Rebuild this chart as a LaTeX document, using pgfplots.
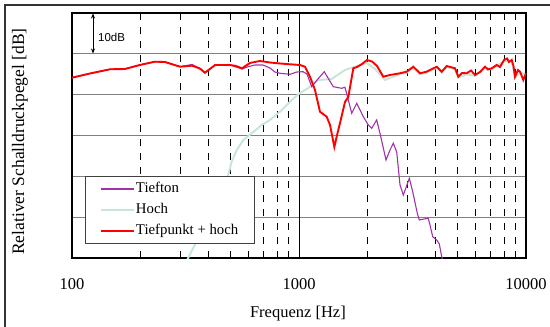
\documentclass[border=0pt]{standalone}
\usepackage{fontspec}
\setmainfont{Liberation Serif}
\newfontfamily\arial{Liberation Sans}
\usepackage{pgfplots}
\pgfplotsset{compat=1.18}
\usetikzlibrary{arrows.meta}
\definecolor{tiefton}{RGB}{160,50,170}
\definecolor{hoch}{RGB}{200,230,215}
\definecolor{gridgray}{RGB}{128,128,128}
\begin{document}
\begin{tikzpicture}
\path[use as bounding box] (0,0) rectangle (550bp,-327bp);
\clip (0,0) rectangle (550bp,-327bp);
\draw[line width=2bp, black!80] (5bp,-340bp) -- (5bp,-5bp) -- (560bp,-5bp);
\begin{axis}[
  at={(72bp,-258bp)}, anchor=south west, scale only axis,
  width=454bp, height=245bp,
  xmode=log, xmin=100, xmax=10000, ymin=0, ymax=60,
  xtick={100,1000,10000}, xticklabels={100,1000,10000},
  minor xtick={200,300,400,500,600,700,800,900,2000,3000,4000,5000,6000,7000,8000,9000},
  ytick={10,20,30,40,50}, yticklabels={},
  ymajorgrids, xminorgrids,
  major tick length=0pt, minor tick length=0pt,
  major grid style={gridgray, line width=1.2bp},
  minor grid style={black, line width=0.7bp, dash pattern=on 7bp off 7bp},
  axis line style={line width=2.2bp},
  /pgf/number format/assume math mode=true,
  tick label style={font=\fontsize{16.5bp}{19bp}\selectfont},
  xticklabel style={yshift=-17bp},
  xlabel={Frequenz [Hz]},
  xlabel style={at={(axis description cs:0.4976,-0.2265)}, anchor=center, font=\fontsize{16.5bp}{19bp}\selectfont},
  ylabel={Relativer Schalldruckpegel [dB]},
  ylabel style={at={(axis description cs:-0.1145,0.4755)}, anchor=center, font=\fontsize{17.5bp}{20bp}\selectfont},
  legend style={at={(0.0286,0.3347)}, anchor=north west, draw=black!75, line width=0.8bp, fill=white,
    font=\fontsize{14.8bp}{17bp}\selectfont, inner xsep=15bp, inner ysep=5bp, row sep=6bp,
    nodes={inner sep=1bp, text height=10bp, text depth=3bp}},
  legend cell align=left,
  legend image code/.code={\draw[#1] (0bp,0bp) -- (33bp,0bp);},
]
\draw[black, line width=0.8bp] (axis cs:1000,0) -- (axis cs:1000,60);
\addplot[hoch, line width=2bp, forget plot] coordinates {
(300,-4) (325,0) (405,10.53) (488,20.33) (505,23.59) (532,26.45) (568,28.90) (629,30.86)
(685,32.57) (745,33.80) (825,35.83) (929,38.70) (1010,40.41) (1099,41.64) (1216,43.60)
(1393,43.84) (1594,46.04) (1765,46.85) (1987,47.76) (2162,46.29) (2393,43.60) (2648,44.58)
(2786,45.0) (2982,45.4) (3188,46.6) (3412,45.0) (3652,45.4) (4043,46.6) (4253,45.4)
(4474,46.8) (4867,46.2) (5033,44.2) (5481,45.0) (5962,44.6) (6598,46.6) (7062,46.2)
(7429,47.0) (8001,48.2) (8650,48.2) (8945,44.2) (9410,45.4) (10000,45.0)
};
\addplot[tiefton, line width=1.1bp, forget plot] coordinates {
(100,44.16) (120,45.19) (147,46.22) (171,46.29) (199,47.27) (232,48.08) (257,48.00)
(299,46.85) (338,47.39) (366,46.41) (385,45.38) (405,46.29) (427,47.27) (497,47.27)
(528,46.78) (561,46.29) (596,46.85) (640,47.27) (694,47.27) (745,46.53) (784,45.55)
(825,45.24) (913,44.99) (977,45.55) (1041,45.63) (1084,45.07) (1138,41.95) (1201,43.60)
(1292,45.63) (1342,44.09) (1416,41.95) (1542,41.56) (1594,41.81) (1649,38.70) (1707,35.44)
(1796,37.89) (1920,34.61) (2020,32.57) (2091,31.77) (2199,33.80) (2274,30.54) (2417,24.00)
(2517,26.45) (2603,28.09) (2694,25.96) (2786,17.88) (2881,15.43) (3062,19.52) (3169,16.24)
(3320,10.95) (3388,9.31) (3553,9.55) (3712,9.72) (3777,8.08) (3882,5.22) (4043,4.41)
(4151,3.43) (4252,0.32) (4310,-0.98)
};
\addplot[red, line width=1.9bp, forget plot] coordinates {
(100,44.16) (120,45.19) (147,46.22) (171,46.29) (199,47.27) (232,48.08) (257,48.00)
(299,46.85) (338,47.10) (366,46.41) (385,45.38) (405,46.29) (427,47.27) (497,47.27)
(528,47.02) (561,46.46) (608,47.76) (673,48.25) (745,47.88) (825,47.64) (913,47.44)
(1010,47.27) (1063,46.85) (1118,44.40) (1176,41.15) (1237,35.83) (1324,34.61) (1370,32.57)
(1431,27.19) (1471,30.12) (1516,33.06) (1594,38.21) (1649,39.43) (1735,46.46) (1801,46.78)
(1895,47.51) (1994,48.49) (2097,48.13) (2206,47.02) (2352,44.40) (2517,44.82) (2786,45.24)
(2982,45.63) (3188,46.85) (3412,45.24) (3652,45.63) (4043,46.85) (4253,45.63) (4474,47.02)
(4867,46.46) (5033,44.40) (5226,45.31) (5481,45.24) (5725,45.92) (5962,44.82) (6271,45.55)
(6598,46.85) (6801,46.17) (7062,46.46) (7429,47.27) (7683,46.78) (8001,48.49) (8248,48.86)
(8417,48.00) (8650,48.49) (8810,46.98) (8945,44.40) (9221,46.04) (9410,45.63) (9730,43.60)
(10000,45.24)
};
\addlegendimage{tiefton, line width=1.6bp}
\addlegendentry{Tiefton}
\addlegendimage{hoch, line width=1.6bp}
\addlegendentry{Hoch}
\addlegendimage{red, line width=1.6bp}
\addlegendentry{Tiefpunkt + hoch}
\end{axis}
\draw[{Stealth[length=5bp,width=4bp]}-{Stealth[length=5bp,width=4bp]}, line width=0.9bp] (93bp,-13.5bp) -- (93bp,-53.5bp);
\node[anchor=west, font=\arial\fontsize{11.5bp}{13bp}\selectfont, inner sep=0pt] at (98bp,-37.5bp) {10dB};
\end{tikzpicture}
\end{document}
